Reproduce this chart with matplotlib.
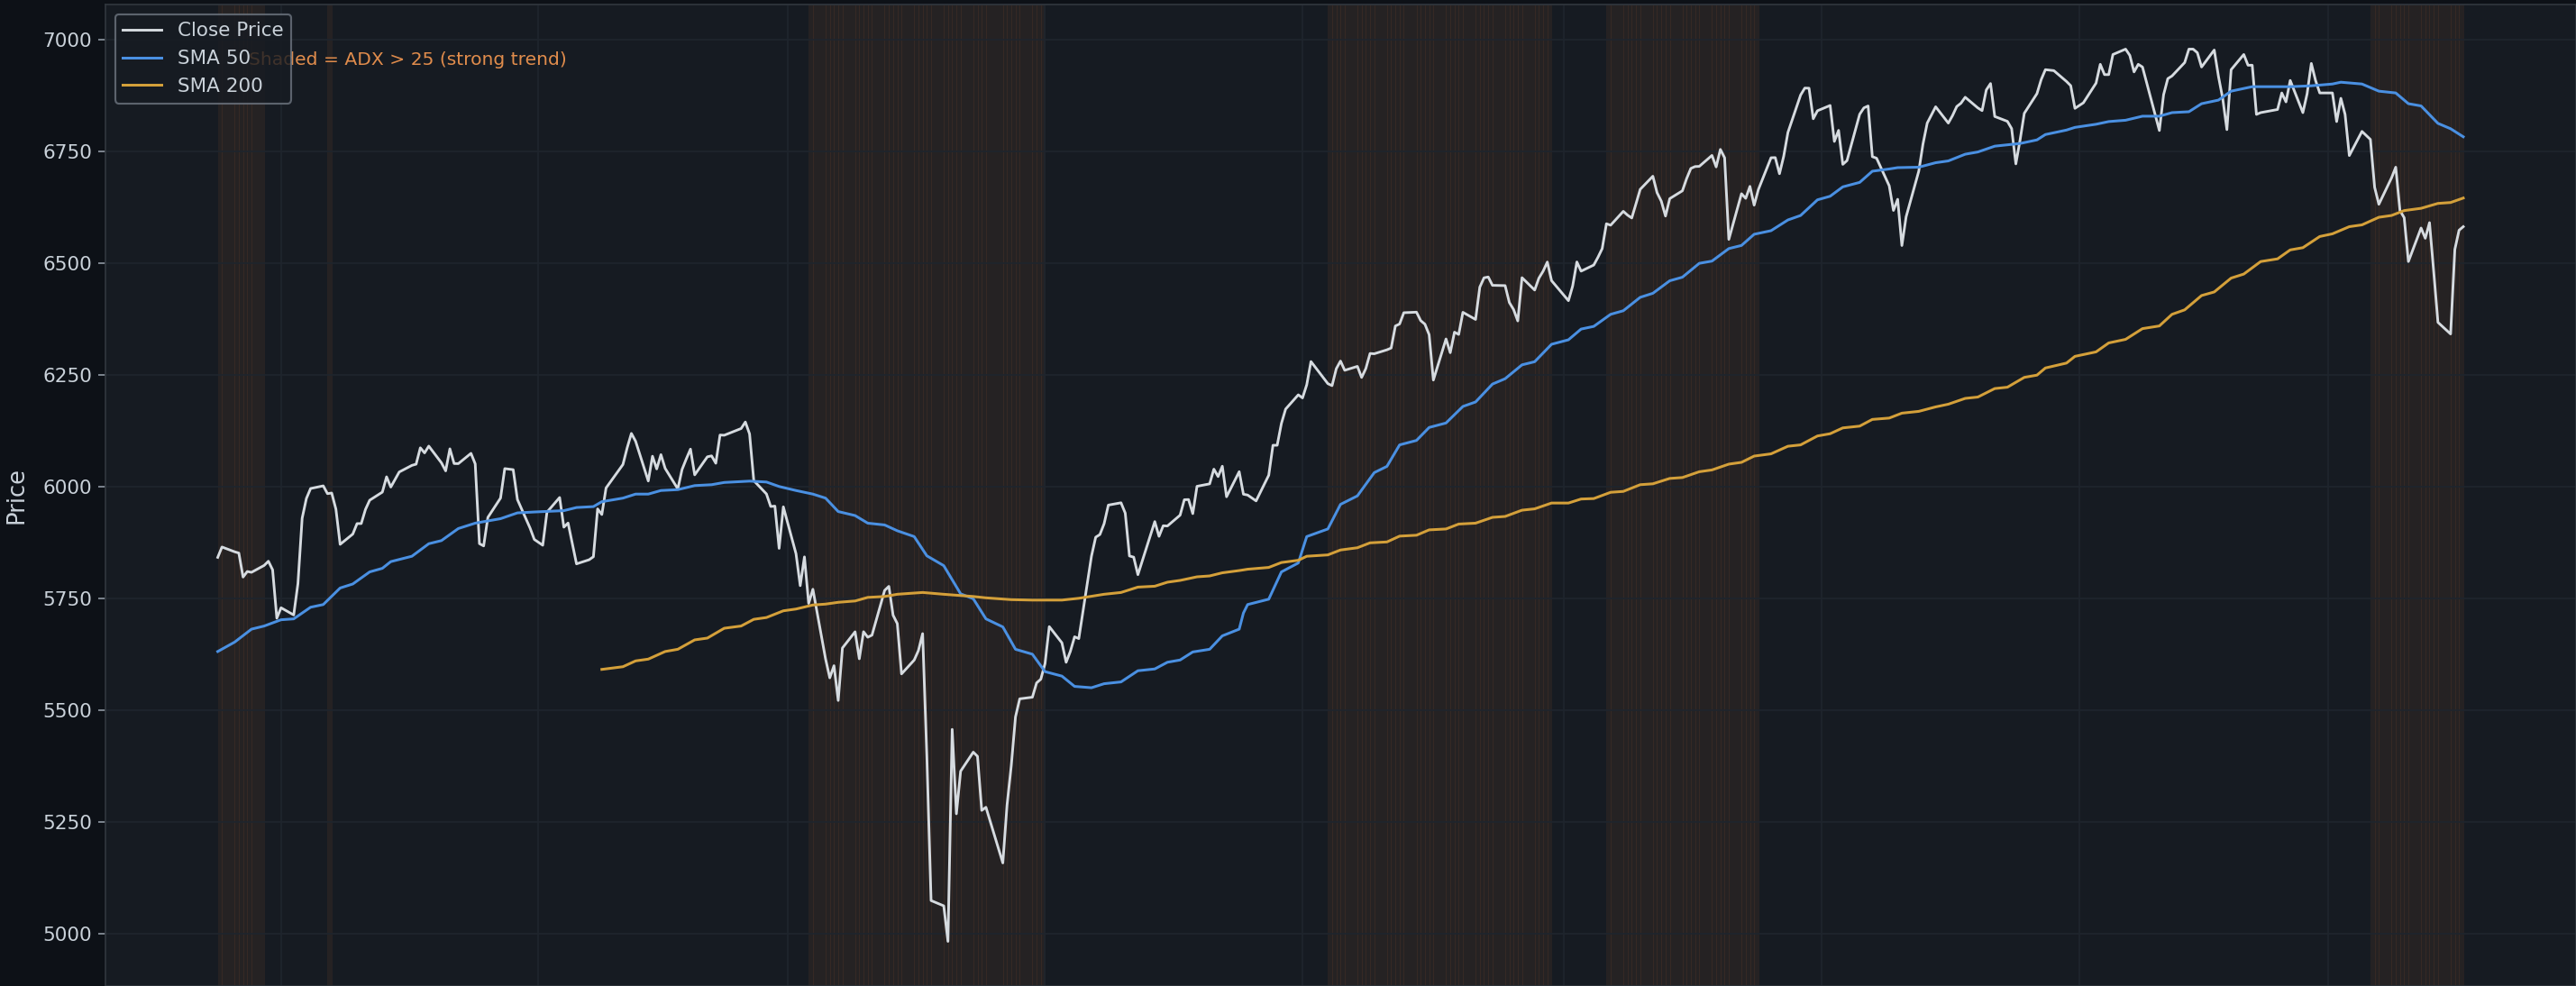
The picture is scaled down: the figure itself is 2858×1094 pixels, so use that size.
import matplotlib
matplotlib.use("Agg")
import matplotlib.pyplot as plt
import matplotlib.dates as mdates
import pandas as pd
import numpy as np

# ---------------- data ----------------
holidays = ['2024-11-28', '2024-12-25', '2025-01-01', '2025-01-09', '2025-01-20',
            '2025-02-17', '2025-04-18', '2025-05-26', '2025-06-19', '2025-07-04',
            '2025-09-01', '2025-11-27', '2025-12-25', '2026-01-01', '2026-01-19',
            '2026-02-16']
start_date = '2024-10-17'
end_date = '2026-04-02'

close = [
    # 2024-10
    5841.5, 5864.7, 5854.0, 5851.2, 5797.4, 5809.9, 5808.1, 5823.5, 5832.9, 5813.7, 5705.5,
    # 2024-11
    5728.8, 5712.7, 5782.8, 5929.0, 5973.1, 5995.5, 6001.4, 5984.0, 5985.4, 5949.2, 5870.6,
    5893.6, 5917.0, 5917.1, 5948.7, 5969.3, 5987.4, 6021.6, 5998.7, 6032.4,
    # 2024-12
    6047.2, 6049.9, 6086.5, 6075.1, 6090.3, 6052.9, 6034.9, 6084.2, 6051.3, 6051.1,
    6074.1, 6050.6, 5872.2, 5867.1, 5930.9, 5974.1, 6040.0, 6037.6, 5970.8, 5906.9, 5881.6,
    # 2025-01
    5868.6, 5942.5, 5975.4, 5909.0, 5918.3, 5827.0, 5836.2, 5842.9, 5949.9, 5937.3,
    5996.7, 6049.2, 6086.4, 6118.7, 6101.2, 6012.3, 6067.7, 6039.3, 6071.2, 6040.5,
    # 2025-02
    5994.6, 6037.9, 6061.5, 6083.6, 6026.0, 6066.4, 6068.5, 6052.0, 6115.1, 6114.6,
    6129.6, 6144.2, 6117.5, 6013.1, 5983.3, 5955.3, 5956.1, 5861.6, 5954.5,
    # 2025-03
    5849.7, 5778.2, 5842.6, 5738.5, 5770.2, 5614.6, 5572.1, 5599.3, 5521.5, 5638.9,
    5675.1, 5614.7, 5675.3, 5662.9, 5667.6, 5767.6, 5776.7, 5712.2, 5693.3, 5580.9, 5611.9,
    # 2025-04
    5633.1, 5671.0, 5396.5, 5074.1, 5062.3, 4982.8, 5456.9, 5268.1, 5363.4, 5406.0,
    5396.6, 5275.7, 5282.7, 5158.2, 5287.8, 5375.9, 5484.8, 5525.2, 5528.8, 5560.8, 5569.1,
    # 2025-05
    5604.1, 5686.7, 5650.4, 5606.9, 5631.3, 5663.9, 5659.9, 5844.2, 5886.6, 5892.6,
    5916.9, 5958.4, 5963.6, 5940.5, 5844.6, 5842.0, 5802.8, 5921.5, 5888.6, 5912.2, 5911.7,
    # 2025-06
    5935.9, 5970.4, 5970.8, 5939.3, 6000.4, 6005.9, 6038.8, 6022.2, 6045.3, 5977.0,
    6033.1, 5982.7, 5980.9, 5967.8, 6025.2, 6092.2, 6092.2, 6141.0, 6173.1, 6205.0,
    # 2025-07
    6198.0, 6227.4, 6279.4, 6230.0, 6225.5, 6263.3, 6280.5, 6259.8, 6268.6, 6243.8, 6263.7,
    6297.4, 6296.8, 6305.6, 6309.6, 6358.9, 6363.4, 6388.6, 6389.8, 6370.9, 6362.9, 6339.4,
    # 2025-08
    6238.0, 6329.9, 6299.2, 6345.1, 6340.0, 6389.5, 6373.5, 6445.8, 6466.6, 6468.5, 6449.8,
    6449.2, 6411.4, 6395.8, 6370.2, 6466.9, 6439.3, 6465.9, 6481.4, 6501.9, 6460.3,
    # 2025-09
    6415.5, 6448.3, 6502.1, 6481.5, 6495.2, 6512.6, 6532.0, 6587.5, 6584.3, 6615.3, 6606.8,
    6600.4, 6632.0, 6664.4, 6693.8, 6656.9, 6638.0, 6604.7, 6643.7, 6661.2, 6688.5,
    # 2025-10
    6711.2, 6715.4, 6715.8, 6740.3, 6714.6, 6753.7, 6735.1, 6552.5, 6654.7, 6644.3, 6671.1,
    6629.1, 6664.0, 6735.1, 6735.4, 6699.4, 6738.4, 6791.7, 6875.2, 6890.9, 6890.6, 6822.3, 6840.2,
    # 2025-11
    6852.0, 6771.6, 6796.3, 6720.3, 6728.8, 6832.4, 6846.6, 6850.9, 6737.5, 6734.1,
    6672.4, 6617.3, 6642.2, 6538.8, 6603.0, 6705.1, 6765.9, 6812.6, 6849.1,
    # 2025-12
    6812.6, 6829.4, 6849.7, 6857.1, 6870.4, 6846.5, 6840.5, 6886.7, 6901.0, 6827.4, 6816.5,
    6800.3, 6721.4, 6774.8, 6834.5, 6878.5, 6909.8, 6932.1, 6929.9, 6905.7, 6896.2, 6845.5,
    # 2026-01
    6858.0, 6902.0, 6944.0, 6921.0, 6921.0, 6966.0, 6978.0, 6964.0, 6927.0, 6944.0,
    6938.0, 6796.0, 6876.0, 6912.0, 6918.0, 6948.0, 6978.0, 6978.0, 6970.0, 6938.0,
    # 2026-02
    6976.0, 6917.0, 6868.0, 6798.0, 6932.0, 6966.0, 6942.0, 6942.0, 6832.0, 6836.0,
    6843.0, 6880.0, 6860.0, 6908.0, 6836.0, 6878.0, 6946.0, 6908.0, 6880.0,
    # 2026-03
    6880.0, 6816.0, 6868.0, 6832.0, 6740.0, 6794.0, 6785.0, 6776.0, 6669.0, 6631.0, 6690.0,
    6714.0, 6617.0, 6601.0, 6503.0, 6578.0, 6555.0, 6590.0, 6480.0, 6367.0, 6341.0, 6530.0,
    # 2026-04
    6573.0, 6581.0,
]

sma50_dates = [
    '2024-10-17', '2024-10-21', '2024-10-25', '2024-10-28', '2024-11-01', '2024-11-04',
    '2024-11-08', '2024-11-11', '2024-11-15', '2024-11-18', '2024-11-22', '2024-11-25',
    '2024-11-27', '2024-12-02', '2024-12-06', '2024-12-09', '2024-12-13', '2024-12-17',
    '2024-12-23', '2024-12-27', '2024-12-31', '2025-01-07', '2025-01-10', '2025-01-14',
    '2025-01-16', '2025-01-21', '2025-01-24', '2025-01-27', '2025-01-30', '2025-02-03',
    '2025-02-07', '2025-02-11', '2025-02-14', '2025-02-20', '2025-02-24', '2025-02-27',
    '2025-03-03', '2025-03-07', '2025-03-10', '2025-03-13', '2025-03-17', '2025-03-20',
    '2025-03-24', '2025-03-27', '2025-03-31', '2025-04-03', '2025-04-07', '2025-04-11',
    '2025-04-14', '2025-04-17', '2025-04-21', '2025-04-24', '2025-04-28', '2025-05-01',
    '2025-05-05', '2025-05-08', '2025-05-12', '2025-05-15', '2025-05-19', '2025-05-23',
    '2025-05-27', '2025-05-30', '2025-06-02', '2025-06-05', '2025-06-09', '2025-06-12',
    '2025-06-16', '2025-06-17', '2025-06-18', '2025-06-23', '2025-06-26', '2025-06-30',
    '2025-07-02', '2025-07-07', '2025-07-10', '2025-07-14', '2025-07-18', '2025-07-21',
    '2025-07-24', '2025-07-28', '2025-07-31', '2025-08-04', '2025-08-08', '2025-08-11',
    '2025-08-15', '2025-08-18', '2025-08-22', '2025-08-25', '2025-08-29', '2025-09-02',
    '2025-09-05', '2025-09-08', '2025-09-12', '2025-09-15', '2025-09-19', '2025-09-22',
    '2025-09-26', '2025-09-29', '2025-10-03', '2025-10-06', '2025-10-10', '2025-10-13',
    '2025-10-16', '2025-10-20', '2025-10-24', '2025-10-27', '2025-10-31', '2025-11-03',
    '2025-11-06', '2025-11-10', '2025-11-13', '2025-11-17', '2025-11-19', '2025-11-24',
    '2025-11-28', '2025-12-01', '2025-12-05', '2025-12-08', '2025-12-12', '2025-12-16',
    '2025-12-18', '2025-12-22', '2025-12-24', '2025-12-29', '2025-12-31', '2026-01-05',
    '2026-01-08', '2026-01-12', '2026-01-16', '2026-01-20', '2026-01-23', '2026-01-27',
    '2026-01-30', '2026-02-03', '2026-02-06', '2026-02-11', '2026-02-13', '2026-02-20',
    '2026-02-25', '2026-03-02', '2026-03-04', '2026-03-09', '2026-03-13', '2026-03-17',
    '2026-03-20', '2026-03-23', '2026-03-27', '2026-03-30', '2026-04-02',
]
sma50_vals = [
    5631, 5652, 5681, 5688, 5702, 5704, 5730, 5736, 5773, 5782, 5809, 5817,
    5832, 5844, 5872, 5879, 5906, 5918, 5928, 5941, 5943, 5946, 5953, 5955,
    5966, 5974, 5983, 5983, 5991, 5993, 6002, 6004, 6009, 6012, 6010, 6000,
    5991, 5983, 5974, 5944, 5935, 5918, 5914, 5901, 5888, 5845, 5823, 5760,
    5749, 5704, 5686, 5636, 5625, 5586, 5576, 5553, 5550, 5559, 5563, 5588,
    5592, 5607, 5612, 5630, 5636, 5666, 5681, 5717, 5736, 5748, 5809, 5829,
    5888, 5905, 5960, 5979, 6031, 6045, 6093, 6103, 6132, 6142, 6179, 6189,
    6229, 6241, 6272, 6279, 6318, 6328, 6352, 6358, 6385, 6393, 6423, 6432,
    6460, 6468, 6499, 6504, 6532, 6539, 6564, 6572, 6596, 6606, 6641, 6649,
    6670, 6680, 6705, 6710, 6713, 6714, 6724, 6728, 6743, 6748, 6761, 6765,
    6767, 6775, 6787, 6797, 6803, 6810, 6816, 6819, 6828, 6828, 6836, 6838,
    6856, 6864, 6884, 6894, 6894, 6894, 6896, 6900, 6904, 6900, 6884, 6880,
    6856, 6851, 6812, 6800, 6782,
]

sma200_dates = [
    '2025-01-16', '2025-01-21', '2025-01-24', '2025-01-27', '2025-01-31', '2025-02-03',
    '2025-02-07', '2025-02-10', '2025-02-14', '2025-02-18', '2025-02-21', '2025-02-24',
    '2025-02-28', '2025-03-03', '2025-03-07', '2025-03-10', '2025-03-13', '2025-03-17',
    '2025-03-20', '2025-03-24', '2025-03-27', '2025-04-02', '2025-04-07', '2025-04-14',
    '2025-04-17', '2025-04-23', '2025-04-28', '2025-05-05', '2025-05-09', '2025-05-15',
    '2025-05-19', '2025-05-23', '2025-05-27', '2025-05-30', '2025-06-02', '2025-06-06',
    '2025-06-09', '2025-06-12', '2025-06-16', '2025-06-18', '2025-06-23', '2025-06-26',
    '2025-06-30', '2025-07-02', '2025-07-07', '2025-07-10', '2025-07-14', '2025-07-17',
    '2025-07-21', '2025-07-24', '2025-07-28', '2025-07-31', '2025-08-04', '2025-08-07',
    '2025-08-11', '2025-08-15', '2025-08-18', '2025-08-22', '2025-08-25', '2025-08-29',
    '2025-09-02', '2025-09-05', '2025-09-08', '2025-09-12', '2025-09-15', '2025-09-19',
    '2025-09-22', '2025-09-26', '2025-09-29', '2025-10-03', '2025-10-06', '2025-10-10',
    '2025-10-13', '2025-10-16', '2025-10-20', '2025-10-24', '2025-10-27', '2025-10-31',
    '2025-11-03', '2025-11-06', '2025-11-10', '2025-11-13', '2025-11-17', '2025-11-20',
    '2025-11-24', '2025-11-28', '2025-12-01', '2025-12-05', '2025-12-08', '2025-12-12',
    '2025-12-15', '2025-12-19', '2025-12-22', '2025-12-24', '2025-12-29', '2025-12-31',
    '2026-01-05', '2026-01-08', '2026-01-12', '2026-01-16', '2026-01-20', '2026-01-23',
    '2026-01-26', '2026-01-30', '2026-02-02', '2026-02-06', '2026-02-09', '2026-02-13',
    '2026-02-17', '2026-02-20', '2026-02-23', '2026-02-27', '2026-03-02', '2026-03-06',
    '2026-03-09', '2026-03-13', '2026-03-16', '2026-03-19', '2026-03-23', '2026-03-27',
    '2026-03-30', '2026-04-02',
]
sma200_vals = [
    5591, 5597, 5610, 5614, 5631, 5636, 5657, 5661, 5683, 5688, 5703, 5707,
    5722, 5726, 5735, 5737, 5741, 5744, 5752, 5754, 5759, 5763, 5759, 5754,
    5751, 5747, 5746, 5746, 5750, 5759, 5763, 5775, 5777, 5786, 5790, 5798,
    5800, 5807, 5812, 5815, 5819, 5830, 5835, 5844, 5847, 5858, 5863, 5874,
    5876, 5889, 5891, 5903, 5905, 5916, 5918, 5931, 5933, 5947, 5950, 5963,
    5963, 5972, 5973, 5987, 5989, 6004, 6006, 6018, 6020, 6033, 6037, 6050,
    6054, 6068, 6073, 6090, 6093, 6113, 6118, 6131, 6135, 6150, 6153, 6164,
    6168, 6178, 6184, 6197, 6200, 6219, 6222, 6244, 6249, 6265, 6276, 6291,
    6301, 6321, 6329, 6353, 6359, 6385, 6395, 6427, 6435, 6466, 6475, 6503,
    6509, 6529, 6534, 6559, 6565, 6581, 6585, 6602, 6606, 6617, 6622, 6633,
    6635, 6645,
]

# trading-day ranges where ADX > 25
adx_start = ['2024-10-17', '2024-11-12', '2025-03-06', '2025-07-07', '2025-09-11', '2026-03-11']
adx_end = ['2024-10-25', '2024-11-12', '2025-04-30', '2025-08-28', '2025-10-16', '2026-04-01']

legend_labels = ['Close Price', 'SMA 50', 'SMA 200']
note_text = 'Shaded = ADX > 25 (strong trend)'

# ---------------- style ----------------
FIG_BG = '#0d1117'
AX_BG = '#161b22'
TXT = '#c9d1d9'

dates = pd.bdate_range(start_date, end_date, freq='C', holidays=holidays)
n = min(len(dates), len(close))
dates = dates[:n]
close_s = pd.Series(close[:n], index=dates)

dpi = 155
fig = plt.figure(figsize=(2858 / dpi, 1094 / dpi), dpi=dpi)
fig.patch.set_facecolor(FIG_BG)
ax = fig.add_axes([117 / 2858, 0.0, (2857.5 - 117) / 2858, 1 - 5 / 1094])
ax.set_facecolor(AX_BG)

# ADX shading, one span per trading day
for s, e in zip(adx_start, adx_end):
    idx = np.where((dates >= pd.Timestamp(s)) & (dates <= pd.Timestamp(e)))[0]
    for i in idx:
        j = min(i + 1, n - 1)
        if j == i:
            continue
        ax.axvspan(dates[i], dates[j], facecolor='#f0883e', edgecolor='#f0883e',
                   linewidth=0.3, alpha=0.07, zorder=1)

ax.plot(close_s.index, close_s.values, color='#d6dbe0', lw=1.35, label=legend_labels[0], zorder=3)
ax.plot(pd.to_datetime(sma50_dates), sma50_vals, color='#4a90e2', lw=1.4, label=legend_labels[1], zorder=3)
ax.plot(pd.to_datetime(sma200_dates), sma200_vals, color='#d4a03a', lw=1.4, label=legend_labels[2], zorder=3)

ax.xaxis.set_major_locator(mdates.MonthLocator(bymonth=[1, 3, 5, 7, 9, 11]))
ax.set_yticks([5000, 5250, 5500, 5750, 6000, 6250, 6500, 6750, 7000])

ax.grid(True, color='#1f252d', lw=0.8, zorder=1.5)
for sp in ax.spines.values():
    sp.set_color('#30363d')
ax.tick_params(colors=TXT, labelsize=10)
ax.tick_params(axis='both', color='#8b949e')
ax.tick_params(axis='x', labelbottom=False, bottom=False)
ax.set_ylabel('Price', color=TXT, fontsize=12, labelpad=7)

ax.text(0.058, 0.952, note_text, transform=ax.transAxes, color='#e08c4c',
        fontsize=9.4, va='top', ha='left', zorder=3)

leg = ax.legend(loc='upper left', fontsize=10, facecolor=AX_BG, edgecolor='#6e7681',
                labelcolor=TXT, framealpha=0.8)

fig.savefig('out.png', dpi=dpi, facecolor=FIG_BG)
